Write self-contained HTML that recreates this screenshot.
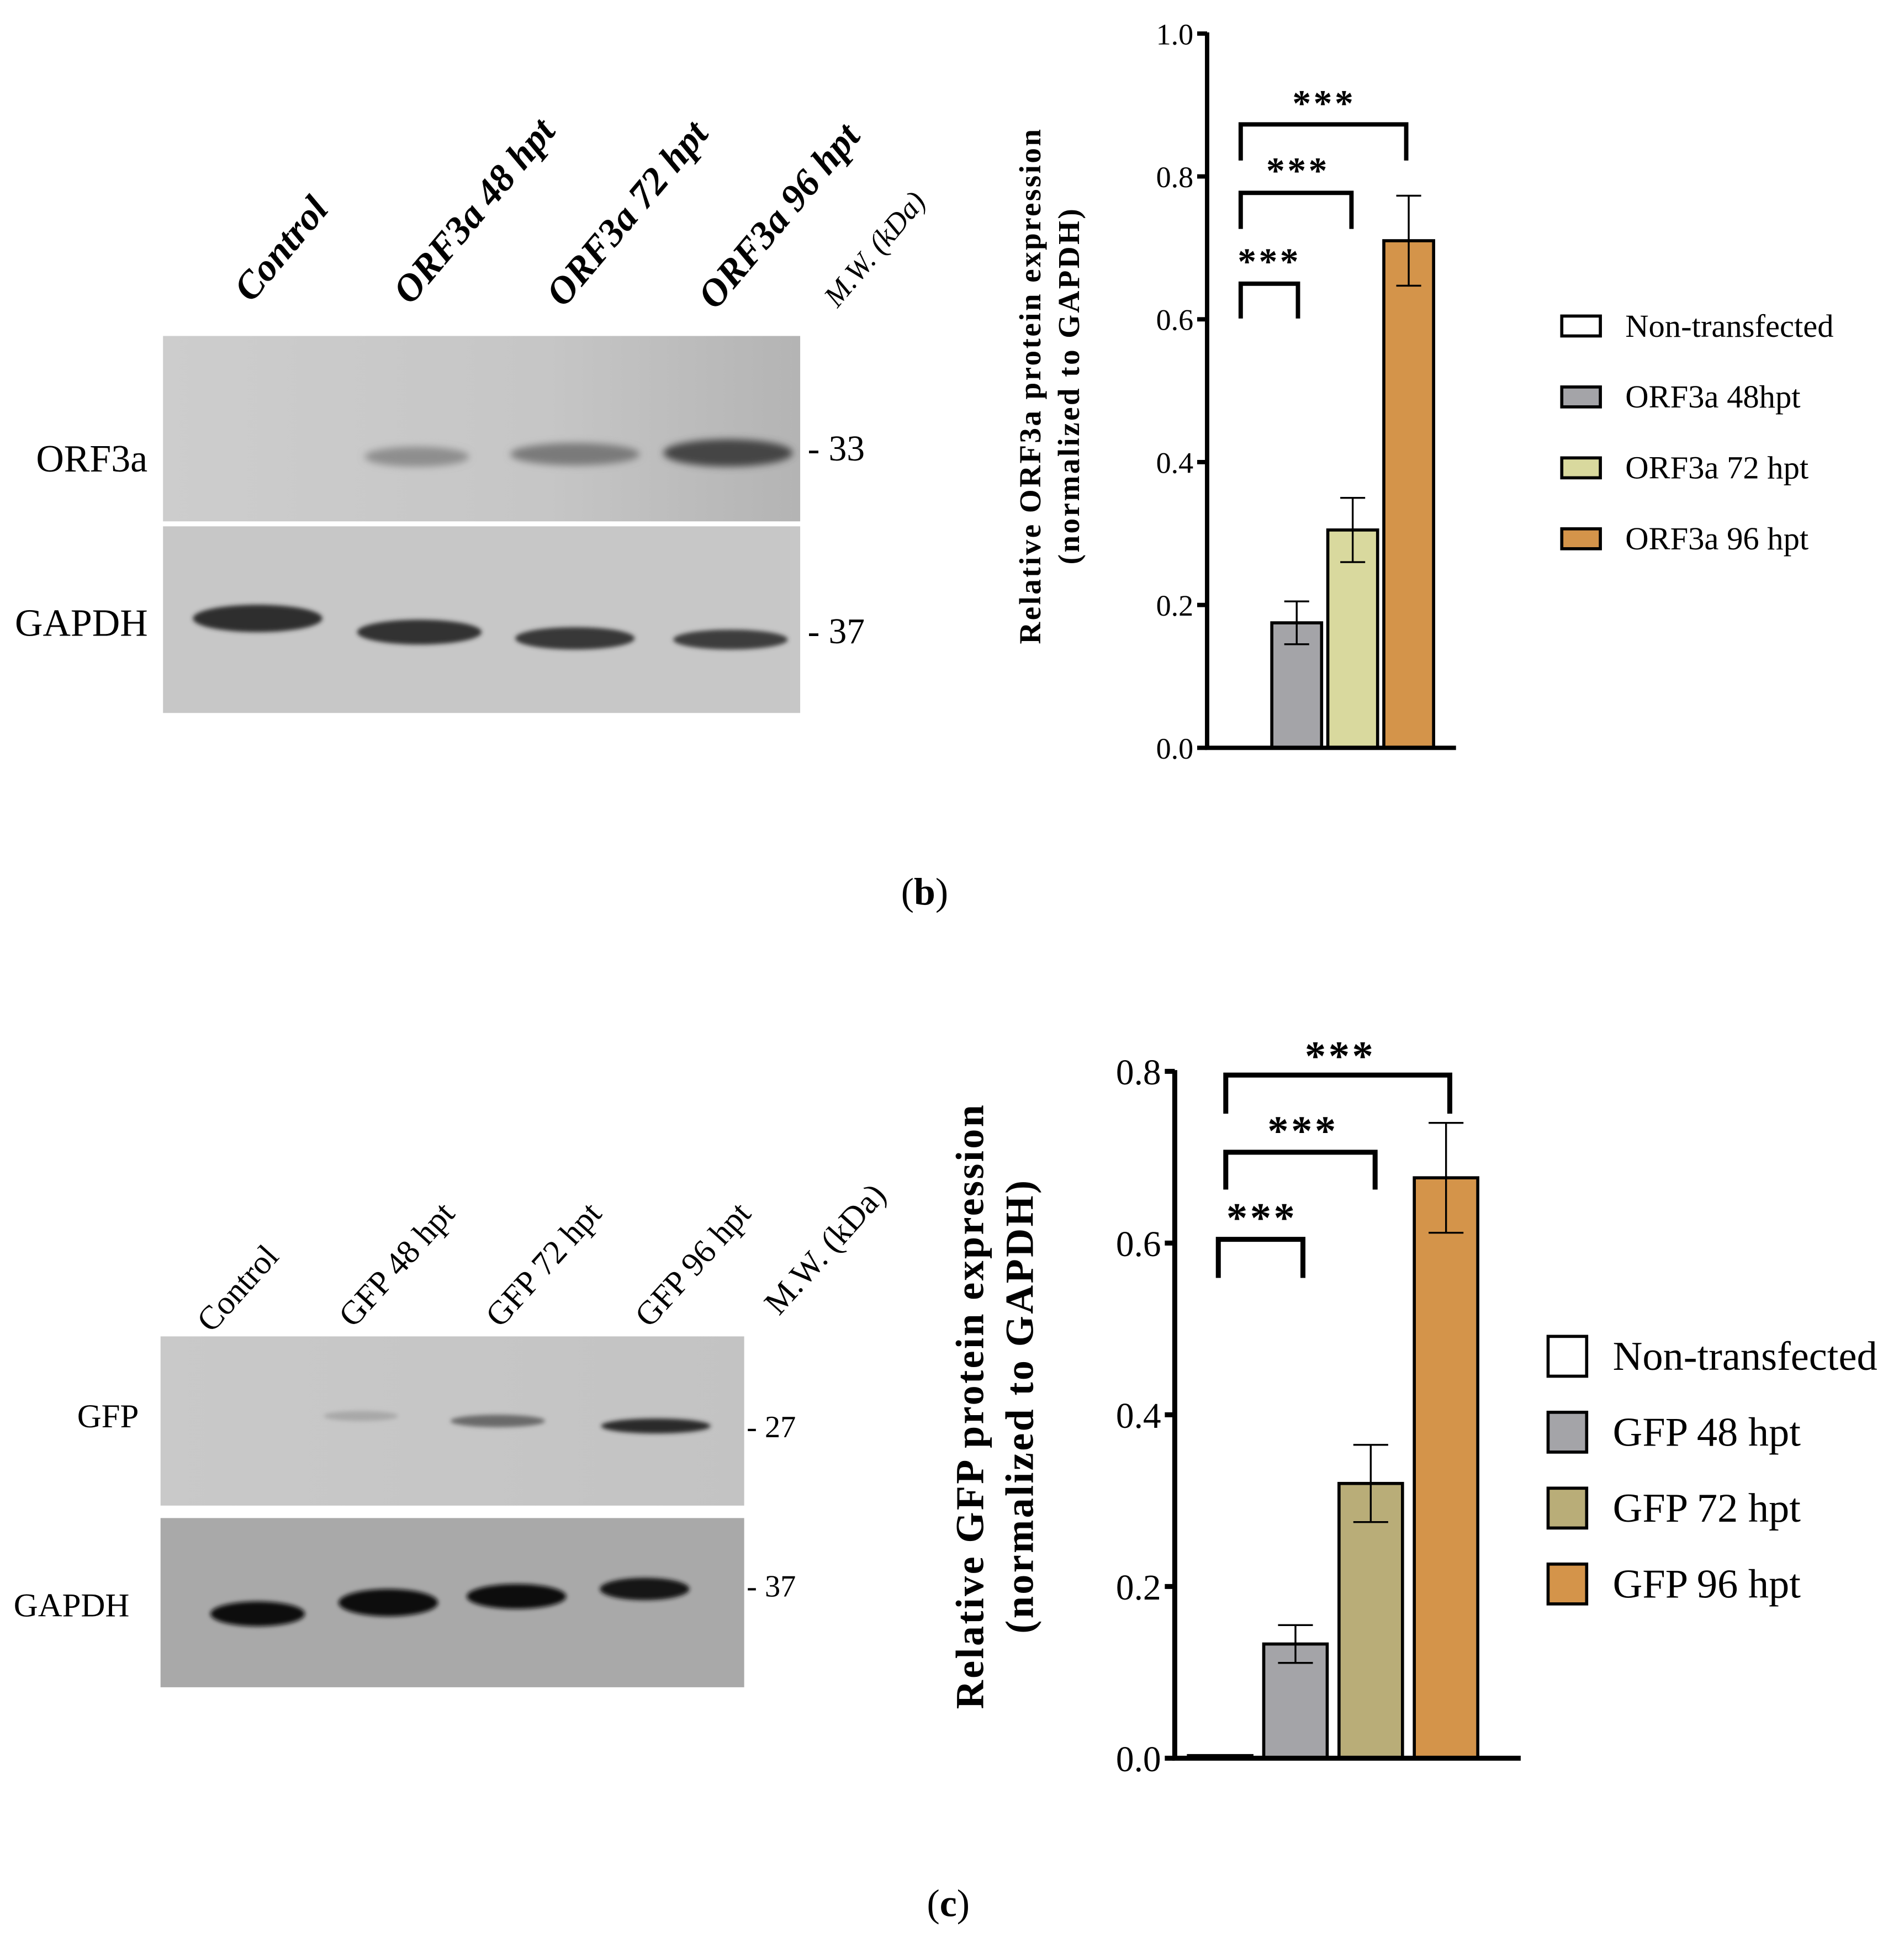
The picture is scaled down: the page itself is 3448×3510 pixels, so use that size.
<!DOCTYPE html>
<html><head><meta charset="utf-8"><style>
html,body{margin:0;padding:0;background:#fff}
svg{display:block}
text{font-family:"Liberation Serif",serif}
</style></head><body>
<svg id="fig" width="3448" height="3510" viewBox="0 0 1530 1557.5" preserveAspectRatio="none" xmlns="http://www.w3.org/2000/svg">
<defs>
<filter id="blur" x="-20%" y="-100%" width="140%" height="300%"><feGaussianBlur stdDeviation="3"/></filter>
<filter id="blur2" x="-20%" y="-100%" width="140%" height="300%"><feGaussianBlur stdDeviation="1.8"/></filter>
<linearGradient id="bgA" x1="0" x2="1"><stop offset="0" stop-color="#cdcdcd"/><stop offset="0.6" stop-color="#c6c6c6"/><stop offset="1" stop-color="#b4b4b4"/></linearGradient>
<linearGradient id="bgC" x1="0" x2="1"><stop offset="0" stop-color="#c9c9c9"/><stop offset="1" stop-color="#c3c3c3"/></linearGradient>
</defs>

<g>
<g font-weight="bold" font-style="italic" font-size="31">
<text transform="translate(202,244) rotate(-50)">Control</text>
<text transform="translate(330,246) rotate(-50)">ORF3a 48 hpt</text>
<text transform="translate(453,248) rotate(-50)">ORF3a 72 hpt</text>
<text transform="translate(575,250) rotate(-50)">ORF3a 96 hpt</text>
</g>
<text font-style="italic" font-size="24" transform="translate(673,248) rotate(-50)">M.W. (kDa)</text>
<rect x="131" y="270" width="512" height="149" fill="url(#bgA)"/>
<rect x="131" y="423" width="512" height="150" fill="#c7c7c7"/>
<g filter="url(#blur)">
<ellipse cx="335" cy="367" rx="42" ry="8" fill="#8e8e8e"/>
<ellipse cx="462" cy="365" rx="52" ry="9" fill="#7a7a7a"/>
<ellipse cx="585" cy="364" rx="52" ry="11" fill="#444"/>
</g>
<g filter="url(#blur2)">
<ellipse cx="207" cy="497" rx="52" ry="11" fill="#2e2e2e"/>
<ellipse cx="337" cy="508" rx="50" ry="10" fill="#303030"/>
<ellipse cx="462" cy="513" rx="48" ry="9" fill="#383838"/>
<ellipse cx="587" cy="514" rx="46" ry="8" fill="#3c3c3c"/>
</g>
<g font-size="31">
<text x="29" y="379">ORF3a</text>
<text x="12" y="511">GAPDH</text>
<text x="649" y="370" font-size="29">- 33</text>
<text x="649" y="517" font-size="29">- 37</text>
</g>
</g>

<g>
<g font-size="27">
<text transform="translate(170,1072) rotate(-48)">Control</text>
<text transform="translate(284,1068) rotate(-48)">GFP 48 hpt</text>
<text transform="translate(402,1068) rotate(-48)">GFP 72 hpt</text>
<text transform="translate(522,1068) rotate(-48)">GFP 96 hpt</text>
<text transform="translate(626,1058) rotate(-48)">M.W. (kDa)</text>
</g>
<rect x="129" y="1074" width="469" height="136" fill="url(#bgC)"/>
<rect x="129" y="1220" width="469" height="136" fill="#a9a9a9"/>
<g filter="url(#blur2)">
<ellipse cx="290" cy="1138" rx="30" ry="4" fill="#a8a8a8"/>
<ellipse cx="400" cy="1142" rx="38" ry="5" fill="#6a6a6a"/>
<ellipse cx="527" cy="1146" rx="44" ry="6" fill="#2a2a2a"/>
<ellipse cx="207" cy="1297" rx="38" ry="10" fill="#0c0c0c"/>
<ellipse cx="312" cy="1288" rx="40" ry="11" fill="#0c0c0c"/>
<ellipse cx="415" cy="1283" rx="40" ry="10" fill="#101010"/>
<ellipse cx="518" cy="1277" rx="36" ry="9" fill="#121212"/>
</g>
<g font-size="27">
<text x="62" y="1147">GFP</text>
<text x="11" y="1299">GAPDH</text>
<text x="600" y="1155" font-size="25">- 27</text>
<text x="600" y="1283" font-size="25">- 37</text>
</g>
</g>

<text x="743" y="727" font-size="31" text-anchor="middle">(<tspan font-weight="bold">b</tspan>)</text>
<text x="762" y="1540" font-size="31" text-anchor="middle">(<tspan font-weight="bold">c</tspan>)</text>

<g id="chartB"></g>
<g id="chartC"></g>
</svg>
<script>
const catsB = ["Non-transfected", "ORF3a 48hpt", "ORF3a 72 hpt", "ORF3a 96 hpt"];
const valsB = [0, 0.175, 0.305, 0.71];
const errB = [0, 0.03, 0.045, 0.063];
const ticksB = [0, 0.2, 0.4, 0.6, 0.8, 1.0];
const tickLabelsB = ["0.0", "0.2", "0.4", "0.6", "0.8", "1.0"];
const colorsB = ["#ffffff", "#a4a4a8", "#d9d99e", "#d4944a"];
const catsC = ["Non-transfected", "GFP 48 hpt", "GFP 72 hpt", "GFP 96 hpt"];
const valsC = [0.003, 0.133, 0.32, 0.676];
const errC = [0, 0.022, 0.045, 0.064];
const ticksC = [0, 0.2, 0.4, 0.6, 0.8];
const tickLabelsC = ["0.0", "0.2", "0.4", "0.6", "0.8"];
const colorsC = ["#ffffff", "#a4a4a8", "#b9ad78", "#d4944a"];
const sigLabels = ["***", "***", "***"];

const NS = "http://www.w3.org/2000/svg";
function mk(parent, tag, attrs, txt) {
  const e = document.createElementNS(NS, tag);
  for (const k in attrs) e.setAttribute(k, attrs[k]);
  if (txt !== undefined) e.textContent = txt;
  parent.appendChild(e);
  return e;
}

function drawChart(g, cfg) {
  const y = v => cfg.y0 - (v / cfg.ymax) * (cfg.y0 - cfg.ytop);
  const lw = cfg.lw;
  cfg.vals.forEach((v, i) => {
    const x = cfg.barX0 + i * cfg.step;
    if (v <= 0) return;
    const r = mk(g, "rect", {x: x, y: y(v), width: cfg.bw, height: cfg.y0 - y(v), fill: cfg.colors[i], stroke: "#000", "stroke-width": 2.5});
    
    
    if (cfg.err[i] > 0) {
      const cx = x + cfg.bw / 2;
      const eg = mk(g, "path", {d: `M${cx},${y(v + cfg.err[i])}V${y(v - cfg.err[i])}M${cx - cfg.cap},${y(v + cfg.err[i])}H${cx + cfg.cap}M${cx - cfg.cap},${y(v - cfg.err[i])}H${cx + cfg.cap}`, stroke: "#000", "stroke-width": 1.5, fill: "none"});
      
      
    }
  });
  const ax = mk(g, "path", {d: `M${cfg.axX},${y(cfg.ymax) - 1}V${cfg.y0}H${cfg.axEnd}`, stroke: "#000", "stroke-width": lw, fill: "none"});
  
  
  cfg.ticks.forEach((t, i) => {
    const tk = mk(g, "line", {x1: cfg.axX - 8, x2: cfg.axX, y1: y(t), y2: y(t), stroke: "#000", "stroke-width": lw});
    
    
    const tl = mk(g, "text", {x: cfg.axX - 11, y: y(t) + cfg.tfs * 0.36, "text-anchor": "end", "font-size": cfg.tfs}, cfg.tickLabels[i]);
    
    
  });
  cfg.brackets.forEach((b, i) => {
    const bp = mk(g, "path", {d: `M${b[0]},${b[3]}V${b[2]}H${b[1]}V${b[3]}`, stroke: "#000", "stroke-width": lw, fill: "none"});
    
    
    const st = mk(g, "text", {x: b[4], y: b[5], "text-anchor": "middle", "font-size": cfg.sfs, "font-weight": "bold", "font-family": "Liberation Sans, sans-serif", "letter-spacing": "2"}, sigLabels[i]);
    
    
  });
  const tt = mk(g, "text", {transform: `translate(${cfg.titleX},${cfg.titleY}) rotate(-90)`, "text-anchor": "middle", "font-size": cfg.titfs, "font-weight": "bold", "letter-spacing": "1.5"});
  
  
  mk(tt, "tspan", {x: 0, dy: 0}, cfg.title1);
  mk(tt, "tspan", {x: 0, dy: cfg.titleGap}, cfg.title2);
  cfg.cats.forEach((c, i) => {
    const ly = cfg.legY0 + i * cfg.legStep;
    const lr = mk(g, "rect", {x: cfg.legX, y: ly - cfg.boxH / 2, width: cfg.boxW, height: cfg.boxH, fill: cfg.colors[i], stroke: "#000", "stroke-width": 2.5});
    
    
    const lt = mk(g, "text", {x: cfg.legTX, y: ly + cfg.lfs * 0.33, "font-size": cfg.lfs}, c);
    
    
  });
}

drawChart(document.getElementById("chartB"), {
  prefix: "b", vals: valsB, err: errB, colors: colorsB, cats: catsB, ticks: ticksB, tickLabels: tickLabelsB,
  ymax: 1.0, y0: 601, ytop: 27, axX: 970, axEnd: 1170, barX0: 977, step: 45, bw: 40, cap: 10, lw: 3.5,
  tfs: 24, sfs: 30,
  brackets: [[997, 1043, 228, 256, 1020, 220], [997, 1086, 155, 184, 1043, 147], [997, 1130, 100, 129, 1064, 93]],
  title1: "Relative ORF3a protein expression", title2: "(normalized to GAPDH)", titleX: 836, titleY: 310, titfs: 24.5, titleGap: 31,
  legX: 1255, legTX: 1306, legY0: 262, legStep: 57, boxW: 31, boxH: 16, lfs: 26
});
drawChart(document.getElementById("chartC"), {
  prefix: "c", vals: valsC, err: errC, colors: colorsC, cats: catsC, ticks: ticksC, tickLabels: tickLabelsC,
  ymax: 0.8, y0: 1413, ytop: 861, axX: 944, axEnd: 1222, barX0: 955, step: 60.5, bw: 51, cap: 14, lw: 4,
  tfs: 29, sfs: 34,
  brackets: [[979, 1047, 996, 1027, 1014, 990], [985, 1105, 926, 956, 1047, 920], [985, 1165, 864, 895, 1077, 860]],
  title1: "Relative GFP protein expression", title2: "(normalized to GAPDH)", titleX: 790, titleY: 1130, titfs: 32, titleGap: 40,
  legX: 1244, legTX: 1296, legY0: 1090, legStep: 61, boxW: 31, boxH: 32, lfs: 33
});
</script>
</body></html>
